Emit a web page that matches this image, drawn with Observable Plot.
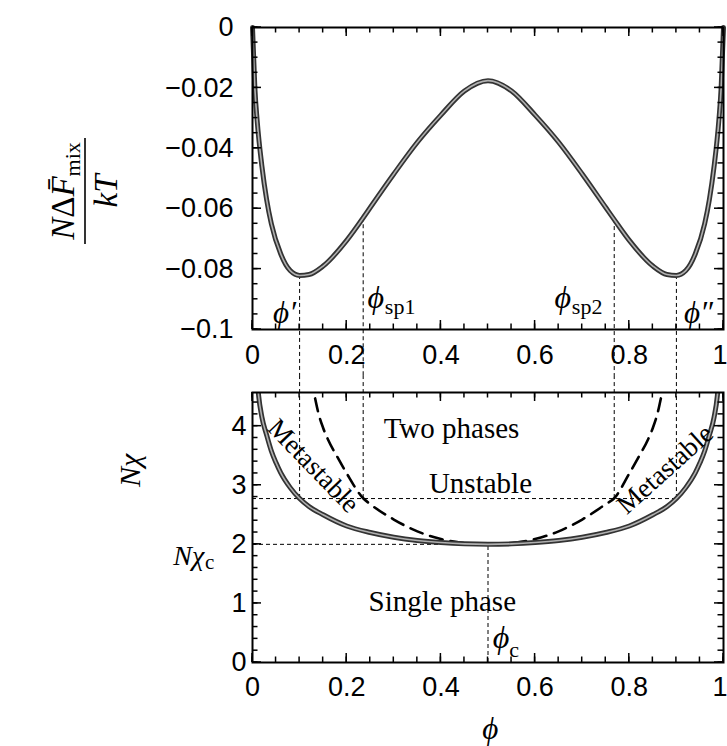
<!DOCTYPE html>
<html>
<head>
<meta charset="utf-8">
<script src="https://cdn.jsdelivr.net/npm/d3@7"></script>
<script src="https://cdn.jsdelivr.net/npm/@observablehq/plot@0.6"></script>
<style>
  body { margin: 0; background: #fff; }
  #chart { position: relative; width: 727px; height: 746px; background: #fff; }
  #chart svg { display: block; overflow: hidden; }
</style>
</head>
<body>
<div id="chart"></div>
<script>
// ---------- data ----------
// top panel: N*dF_mix/kT versus phi
const phiFree = [0, 0.005, 0.01, 0.02, 0.03, 0.04, 0.06, 0.08, 0.1, 0.12, 0.15, 0.2, 0.235, 0.25, 0.3, 0.35, 0.4, 0.45, 0.5,
                 0.55, 0.6, 0.65, 0.7, 0.75, 0.768, 0.8, 0.85, 0.88, 0.9, 0.92, 0.94, 0.96, 0.97, 0.98, 0.99, 0.995, 1];
const freeEnergy = [0, -0.020, -0.031, -0.046, -0.057, -0.065, -0.075, -0.0805, -0.0821, -0.0818, -0.079, -0.0705, -0.063, -0.0596, -0.0485, -0.038, -0.029, -0.021, -0.0176,
                    -0.021, -0.029, -0.038, -0.0485, -0.0596, -0.0636, -0.0705, -0.079, -0.0818, -0.0821, -0.0805, -0.075, -0.065, -0.057, -0.046, -0.031, -0.020, 0];

// bottom panel: binodal (solid) and spinodal (dashed), N*chi versus phi
const phiBinodal = [0.011, 0.013, 0.02, 0.03, 0.04, 0.05, 0.06, 0.08, 0.1, 0.12, 0.15, 0.2, 0.25, 0.3, 0.35, 0.4, 0.45, 0.5,
                    0.55, 0.6, 0.65, 0.7, 0.75, 0.8, 0.85, 0.88, 0.9, 0.92, 0.94, 0.95, 0.96, 0.97, 0.98, 0.987, 0.989];
const chiBinodal = [4.70, 4.52, 4.15, 3.85, 3.58, 3.38, 3.21, 2.96, 2.775, 2.64, 2.50, 2.31, 2.20, 2.12, 2.065, 2.03, 2.008, 2.0,
                    2.008, 2.03, 2.065, 2.12, 2.20, 2.31, 2.50, 2.64, 2.775, 2.96, 3.21, 3.38, 3.58, 3.85, 4.15, 4.52, 4.70];
const phiSpinodal = [0.133, 0.14, 0.15, 0.16, 0.18, 0.2, 0.235, 0.25, 0.3, 0.35, 0.4, 0.45, 0.5,
                     0.55, 0.6, 0.65, 0.7, 0.75, 0.768, 0.8, 0.82, 0.84, 0.85, 0.86, 0.867];
const chiSpinodal = [4.47, 4.22, 3.97, 3.78, 3.48, 3.20, 2.78, 2.68, 2.42, 2.22, 2.09, 2.02, 2.0,
                     2.02, 2.09, 2.22, 2.42, 2.68, 2.78, 3.20, 3.48, 3.78, 3.97, 4.22, 4.47];

// special compositions (phi', phi_sp1, phi_sp2, phi'') and their values
const markerPhi = [0.1, 0.235, 0.768, 0.9];
const markerFree = [-0.0821, -0.063, -0.0636, -0.0821];
const chiMarker = 2.775;      // N*chi of the horizontal dashed line through the markers
const phiCritical = 0.5;
const chiCritical = 2;

// axis ticks and labels
const xTicks = [0, 0.2, 0.4, 0.6, 0.8, 1];
const xTickLabels = ["0", "0.2", "0.4", "0.6", "0.8", "1"];
const yTopTicks = [0, -0.02, -0.04, -0.06, -0.08, -0.1];
const yTopTickLabels = ["0", "\u22120.02", "\u22120.04", "\u22120.06", "\u22120.08", "\u22120.1"];
const yBottomTicks = [0, 1, 2, 3, 4];
const yBottomTickLabels = ["0", "1", "2", "3", "4"];

// ---------- build ----------
const SANS = "'Liberation Sans', Arial, Helvetica, sans-serif";
const SERIF = "'Liberation Serif', 'Times New Roman', 'DejaVu Serif', serif";
const W = 727, ML = 252, MR = 4;
const xLabelOf = new Map(xTicks.map((d, i) => [d, xTickLabels[i]]));
const yTopLabelOf = new Map(yTopTicks.map((d, i) => [d, yTopTickLabels[i]]));
const yBotLabelOf = new Map(yBottomTicks.map((d, i) => [d, yBottomTickLabels[i]]));

const xMinor = d3.ticks(0, 1, 20);
const freeRows = phiFree.map((p, i) => ({phi: p, f: freeEnergy[i]}));
const markerRows = markerPhi.map((p, i) => ({phi: p, f: markerFree[i]}));
const binRows = phiBinodal.map((p, i) => ({phi: p, chi: chiBinodal[i]}));
const spinRows = phiSpinodal.map((p, i) => ({phi: p, chi: chiSpinodal[i]}));

// inward tick marks on all four sides, positioned with the plot's own scales
function addFrameTicks(svg, yMinor, yMajor) {
  const sx = svg.scale("x"), sy = svg.scale("y");
  const [xL, xR] = sx.range;
  const yB = Math.max(...sy.range), yT = Math.min(...sy.range);
  const g = d3.select(svg).append("g").attr("stroke", "#000").attr("stroke-width", 1.5);
  for (const [ticks, len] of [[xMinor, 5.5], [xTicks, 9]]) {
    for (const t of ticks) {
      const px = sx.apply(t);
      g.append("line").attr("x1", px).attr("x2", px).attr("y1", yB).attr("y2", yB - len);
      g.append("line").attr("x1", px).attr("x2", px).attr("y1", yT).attr("y2", yT + len);
    }
  }
  for (const [ticks, len] of [[yMinor, 5.5], [yMajor, 9]]) {
    for (const t of ticks) {
      const py = sy.apply(t);
      g.append("line").attr("y1", py).attr("y2", py).attr("x1", xL).attr("x2", xL + len);
      g.append("line").attr("y1", py).attr("y2", py).attr("x1", xR).attr("x2", xR - len);
    }
  }
}

const thin = {stroke: "#000", strokeWidth: 1, strokeDasharray: "4,3"};
const xLabelsInner = xTicks.filter(d => d < 1);
const xLabelsEdge = xTicks.filter(d => d >= 1);

function xTickText(padding) {
  return [
    Plot.axisX({anchor: "bottom", ticks: xLabelsInner, tickSize: 0, tickPadding: padding, label: null,
      tickFormat: d => xLabelOf.get(d), fontSize: 27, fontFamily: SANS}),
    Plot.axisX({anchor: "bottom", ticks: xLabelsEdge, tickSize: 0, tickPadding: padding, label: null,
      tickFormat: d => xLabelOf.get(d), fontSize: 27, fontFamily: SANS, textAnchor: "end", dx: 4})
  ];
}

// ----- top panel -----
const topPlot = Plot.plot({
  width: W, height: 375,
  marginLeft: ML, marginRight: MR, marginTop: 27, marginBottom: 46,
  x: {domain: [0, 1]},
  y: {domain: [-0.1, 0]},
  style: {background: "white", color: "black"},
  marks: [
    Plot.ruleX(markerRows, {x: "phi", y1: "f", y2: () => -0.2, ...thin}),
    Plot.line(freeRows, {x: "phi", y: "f", stroke: "#333", strokeWidth: 5, curve: "monotone-x"}),
    Plot.line(freeRows, {x: "phi", y: "f", stroke: "#b0b0b0", strokeWidth: 1.6, curve: "monotone-x"}),
    Plot.frame({stroke: "#000", strokeWidth: 2}),
    ...xTickText(15),
    Plot.axisY({anchor: "left", ticks: yTopTicks, tickSize: 0, tickPadding: 19, label: null,
      tickFormat: d => yTopLabelOf.get(d), fontSize: 27, fontFamily: SANS}),
    // phi annotations
    Plot.text(["\u03D5\u2032"], {x: () => 0.068, y: () => -0.0944, text: d => d, fontSize: 31, fontStyle: "italic", fontFamily: SERIF, fill: "#000"}),
    Plot.text(["\u03D5\u2033"], {x: () => 0.947, y: () => -0.0944, text: d => d, fontSize: 31, fontStyle: "italic", fontFamily: SERIF, fill: "#000"}),
    Plot.text(["\u03D5"], {x: () => 0.244, y: () => -0.0894, text: d => d, textAnchor: "start", fontSize: 32, fontStyle: "italic", fontFamily: SERIF, fill: "#000"}),
    Plot.text(["sp1"], {x: () => 0.281, y: () => -0.0924, text: d => d, textAnchor: "start", fontSize: 22, fontFamily: SERIF, fill: "#000"}),
    Plot.text(["\u03D5"], {x: () => 0.641, y: () => -0.0894, text: d => d, textAnchor: "start", fontSize: 32, fontStyle: "italic", fontFamily: SERIF, fill: "#000"}),
    Plot.text(["sp2"], {x: () => 0.678, y: () => -0.0924, text: d => d, textAnchor: "start", fontSize: 22, fontFamily: SERIF, fill: "#000"})
  ]
});
addFrameTicks(topPlot, d3.ticks(-0.1, 0, 20), yTopTicks);

// y label of top panel as a fraction
{
  const g = d3.select(topPlot).append("g")
    .attr("transform", "translate(85,191) rotate(-90)")
    .attr("font-family", SERIF).attr("fill", "#000");
  const num = g.append("text").attr("x", 0).attr("y", -11).attr("text-anchor", "middle").attr("font-size", 33);
  num.append("tspan").attr("font-style", "italic").text("N");
  num.append("tspan").text("\u0394");
  num.append("tspan").attr("font-style", "italic").text("F\u0304");
  num.append("tspan").attr("font-size", 22).attr("dy", 6).text("mix");
  g.append("line").attr("x1", -53).attr("x2", 53).attr("y1", 0).attr("y2", 0)
    .attr("stroke", "#000").attr("stroke-width", 1.6);
  g.append("text").attr("x", 0).attr("y", 32).attr("text-anchor", "middle")
    .attr("font-size", 33).attr("font-style", "italic").text("kT");
}

// ----- bottom panel -----
const bottomPlot = Plot.plot({
  width: W, height: 371,
  marginLeft: ML, marginRight: MR, marginTop: 17, marginBottom: 84,
  x: {domain: [0, 1]},
  y: {domain: [0, 4.57]},
  style: {background: "white", color: "black"},
  marks: [
    Plot.ruleX(markerPhi, {x: d => d, y1: () => chiMarker, y2: () => 6, ...thin}),
    Plot.ruleY([chiMarker], {y: d => d, x1: () => 0, x2: () => markerPhi[3], ...thin}),
    Plot.ruleY([chiCritical], {y: d => d, x1: () => 0, x2: () => phiCritical, ...thin}),
    Plot.ruleX([phiCritical], {x: d => d, y1: () => 0, y2: () => chiCritical, ...thin}),
    Plot.line(spinRows, {x: "phi", y: "chi", stroke: "#000", strokeWidth: 2.6, strokeDasharray: "13,8", curve: "monotone-x", clip: true}),
    Plot.line(binRows, {x: "phi", y: "chi", stroke: "#333", strokeWidth: 5, curve: "monotone-x", clip: true}),
    Plot.line(binRows, {x: "phi", y: "chi", stroke: "#b0b0b0", strokeWidth: 1.6, curve: "monotone-x", clip: true}),
    Plot.frame({stroke: "#000", strokeWidth: 2}),
    ...xTickText(14),
    Plot.axisY({anchor: "left", ticks: yBottomTicks, tickSize: 0, tickPadding: 6, label: null,
      tickFormat: d => yBotLabelOf.get(d), fontSize: 27, fontFamily: SANS}),
    // region labels
    Plot.text(["Two phases"], {x: () => 0.4225, y: () => 3.96, text: d => d, fontSize: 29, fontFamily: SERIF, fill: "#000"}),
    Plot.text(["Unstable"], {x: () => 0.484, y: () => 3.03, text: d => d, fontSize: 29, fontFamily: SERIF, fill: "#000"}),
    Plot.text(["Single phase"], {x: () => 0.403, y: () => 1.03, text: d => d, fontSize: 29, fontFamily: SERIF, fill: "#000"}),
    Plot.text(["Metastable"], {x: () => 0.1295, y: () => 3.33, text: d => d, rotate: 46, fontSize: 27, fontFamily: SERIF, fill: "#000"}),
    Plot.text(["Metastable"], {x: () => 0.876, y: () => 3.27, text: d => d, rotate: -42, fontSize: 27, fontFamily: SERIF, fill: "#000"}),
    // phi_c
    Plot.text(["\u03D5"], {x: () => 0.510, y: () => 0.42, text: d => d, textAnchor: "start", fontSize: 32, fontStyle: "italic", fontFamily: SERIF, fill: "#000"}),
    Plot.text(["c"], {x: () => 0.545, y: () => 0.22, text: d => d, textAnchor: "start", fontSize: 22, fontFamily: SERIF, fill: "#000"}),
    // N chi_c at the left of the axis
    Plot.text(["N\u03C7"], {x: () => -0.168, y: () => 1.80, text: d => d, textAnchor: "start", fontSize: 28, fontStyle: "italic", fontFamily: SERIF, fill: "#000"}),
    Plot.text(["c"], {x: () => -0.101, y: () => 1.70, text: d => d, textAnchor: "start", fontSize: 21, fontFamily: SERIF, fill: "#000"}),
    // axis titles
    Plot.text(["N\u03C7"], {x: () => -0.26, y: () => 3.25, text: d => d, rotate: -90, fontSize: 30, fontStyle: "italic", fontFamily: SERIF, fill: "#000"}),
    Plot.text(["\u03D5"], {x: () => 0.505, y: () => -1.12, text: d => d, fontSize: 31, fontStyle: "italic", fontFamily: SERIF, fill: "#000"})
  ]
});
addFrameTicks(bottomPlot, d3.ticks(0, 4.6, 23).filter(d => d <= 4.57), yBottomTicks);

const chart = document.getElementById("chart");
chart.appendChild(topPlot);
chart.appendChild(bottomPlot);
</script>
</body>
</html>
